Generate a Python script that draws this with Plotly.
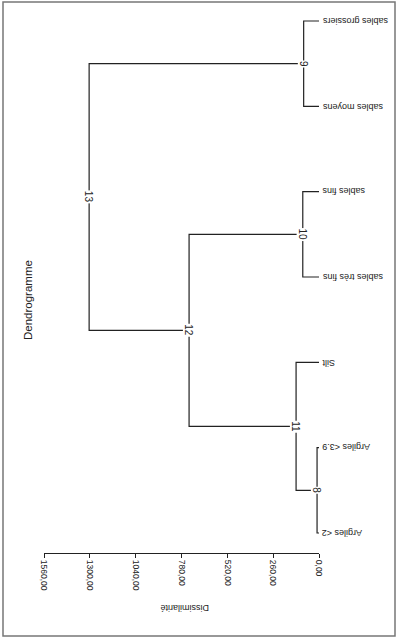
import plotly.graph_objects as go

# leaves, from bottom to top of the picture
leaves = ["Argiles &lt;2", "Argiles &lt;3.9", "Silt", "sables très fins",
          "sables fins", "sables moyens", "sables grossiers"]

# merges: node id, left child, right child, dissimilarity
node_ids = [8, 9, 10, 11, 12, 13]
left_child = ["L0", "L5", "L3", "N8", "N11", "N12"]
right_child = ["L1", "L6", "L4", "L2", "N10", "N9"]
heights = [11, 87, 92, 130, 737, 1304]

tick_vals = [0, 260, 520, 780, 1040, 1300, 1560]
tick_text = ["0,00", "260,00", "520,00", "780,00", "1040,00", "1300,00", "1560,00"]

W, H = 398, 639
L, R, T, B = 44, 79, 12, 86
LINE = "#222222"
FONT = "Arial, Liberation Sans, sans-serif"

fig = go.Figure()

# position (x = height, y = leaf order) of every leaf / node
pos = {f"L{i}": (0, i) for i in range(len(leaves))}
for nid, a, b, h in zip(node_ids, left_child, right_child, heights):
    xa, ya = pos[a]
    xb, yb = pos[b]
    fig.add_trace(go.Scatter(
        x=[xa, h, h, xb], y=[ya, ya, yb, yb], mode="lines",
        line=dict(color=LINE, width=1.2), hoverinfo="skip", showlegend=False,
        cliponaxis=False,
    ))
    ym = (ya + yb) / 2
    pos[f"N{nid}"] = (h, ym)
    fig.add_annotation(x=h, y=ym, text=str(nid), showarrow=False, textangle=90,
                       font=dict(family=FONT, size=10, color="#222"),
                       bgcolor="white", borderpad=0)

# leaf labels (upside down)
for i, name in enumerate(leaves):
    fig.add_annotation(x=0, y=i, text=name, showarrow=False, textangle=180,
                       xanchor="left", xshift=1,
                       font=dict(family=FONT, size=9, color="#222"))

# titles
pw, ph = W - L - R, H - T - B
fig.add_annotation(xref="paper", yref="paper", x=(20 - L) / pw, y=(H - B - 300) / ph,
                   text="Dendrogramme", showarrow=False, textangle=-90,
                   font=dict(family=FONT, size=11.5, color="#222"))
fig.add_annotation(xref="paper", yref="paper", x=(184 - L) / pw, y=(H - B - 615) / ph,
                   text="Dissimilarité", showarrow=False, textangle=180,
                   font=dict(family=FONT, size=9, color="#222"))

# outer frame
fig.add_shape(type="rect", xref="paper", yref="paper",
              x0=(3 - L) / pw, x1=(395 - L) / pw,
              y0=(H - B - 636) / ph, y1=(H - B - 2) / ph,
              line=dict(color="#777", width=1.5))

ppu = (533 - 21) / 6.0
fig.update_layout(
    width=W, height=H, margin=dict(l=L, r=R, t=T, b=B),
    plot_bgcolor="white", paper_bgcolor="white",
    xaxis=dict(range=[1560, 0], tickvals=tick_vals, ticktext=tick_text, tickangle=90,
               showline=True, linecolor=LINE, linewidth=1.2, ticks="outside", ticklen=4,
               tickcolor=LINE, showgrid=False, zeroline=False,
               tickfont=dict(family=FONT, size=8.5, color="#222")),
    yaxis=dict(range=[-20 / ppu, 6 + 9 / ppu], visible=False, showgrid=False, zeroline=False),
)

fig.write_html("out.html", config={"displayModeBar": False},
               post_script="document.body.style.margin='0px';")
